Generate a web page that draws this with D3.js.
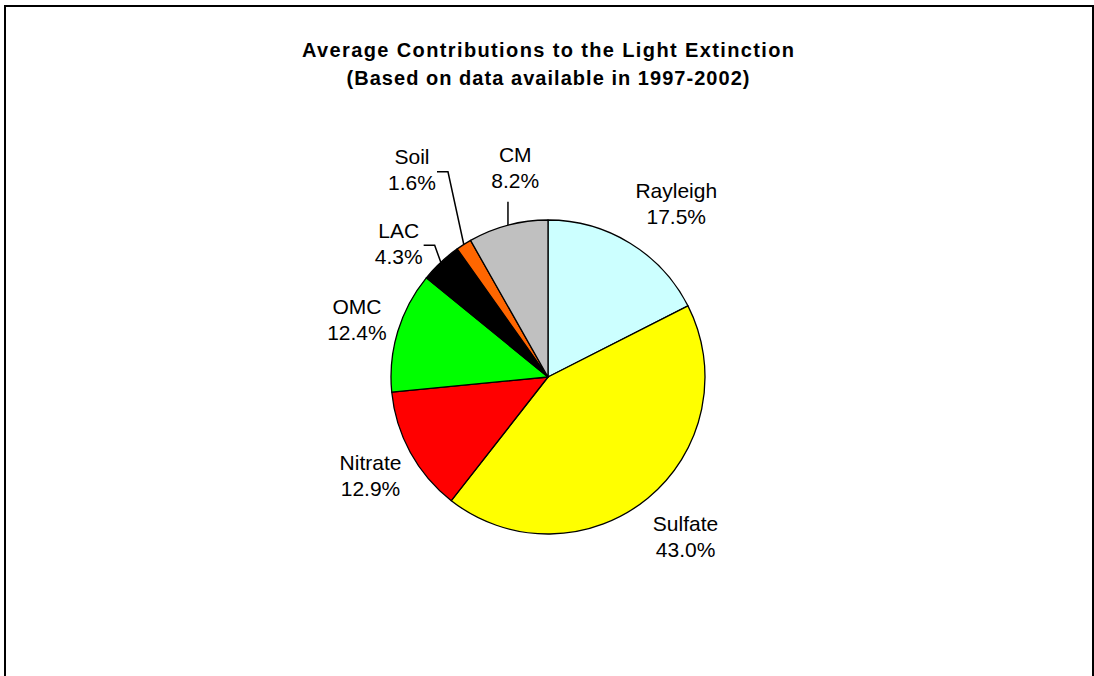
<!DOCTYPE html>
<html>
<head>
<meta charset="utf-8">
<script src="https://cdn.jsdelivr.net/npm/d3@7"></script>
<style>
  html, body { margin: 0; padding: 0; background: #fff; }
  svg { display: block; }
</style>
</head>
<body>
<div id="chart"></div>
<script>
// data
const categories = ["Rayleigh", "Sulfate", "Nitrate", "OMC", "LAC", "Soil", "CM"];
const shares = [17.5, 43.0, 12.9, 12.4, 4.3, 1.6, 8.2];
const colours = ["#CCFFFF", "#FFFF00", "#FF0000", "#00FF00", "#000000", "#FF6600", "#C0C0C0"];
const titleLines = ["Average Contributions to the Light Extinction", "(Based on data available in 1997-2002)"];

const width = 1094, height = 676;
const cx = 548, cy = 377, radius = 157, labelRadius = 207;

// hand nudges for label placement (Excel-style manual positions)
const nudge = {
    Rayleigh: [20, 2], Sulfate: [6, -1], Nitrate: [4, -2], OMC: [7, 2],
    LAC: [-8, 17], Soil: [-25, -33], CM: [20, -10]
};
const leaders = { LAC: "side", Soil: "side", CM: "below" };

const svg = d3.select("#chart").append("svg")
    .attr("width", width)
    .attr("height", height);

// chart area border
svg.append("rect")
    .attr("x", 5).attr("y", 6)
    .attr("width", 1088).attr("height", 720)
    .attr("fill", "none")
    .attr("stroke", "#000")
    .attr("stroke-width", 2);

// title
svg.selectAll(".title")
    .data(titleLines)
    .join("text")
    .attr("class", "title")
    .attr("x", cx)
    .attr("y", (d, i) => 57 + i * 28)
    .attr("text-anchor", "middle")
    .attr("font-family", "'Liberation Sans', Arial, sans-serif")
    .attr("font-weight", "bold")
    .attr("font-size", "20px")
    .attr("textLength", (d, i) => i === 0 ? 492 : 403)
    .attr("lengthAdjust", "spacing")
    .text(d => d);

const data = categories.map((c, i) => ({ name: c, value: shares[i], colour: colours[i] }));

const pie = d3.pie().value(d => d.value).sort(null);
const arcs = pie(data);
const arc = d3.arc().innerRadius(0).outerRadius(radius);

const g = svg.append("g").attr("transform", `translate(${cx},${cy})`);

g.selectAll(".slice")
    .data(arcs)
    .join("path")
    .attr("class", "slice")
    .attr("d", arc)
    .attr("fill", d => d.data.colour)
    .attr("stroke", "#000")
    .attr("stroke-width", 1.3)
    .attr("stroke-linejoin", "round");

const mid = d => (d.startAngle + d.endAngle) / 2;
const polar = (a, r) => [r * Math.sin(a), -r * Math.cos(a)];

const labelPos = d => {
    const p = polar(mid(d), labelRadius);
    const n = nudge[d.data.name] || [0, 0];
    return [p[0] + n[0], p[1] + n[1]];
};

const labels = g.selectAll(".label")
    .data(arcs)
    .join("text")
    .attr("class", "label")
    .attr("text-anchor", "middle")
    .attr("font-family", "'Liberation Sans', Arial, sans-serif")
    .attr("font-size", "21px")
    .attr("fill", "#000");

labels.append("tspan")
    .attr("x", d => labelPos(d)[0])
    .attr("y", d => labelPos(d)[1] - 5)
    .text(d => d.data.name);

labels.append("tspan")
    .attr("x", d => labelPos(d)[0])
    .attr("y", d => labelPos(d)[1] + 21)
    .text(d => d3.format(".1f")(d.data.value) + "%");

// leader lines for the small slices
const leaderData = arcs.filter(d => leaders[d.data.name]);
g.selectAll(".leader")
    .data(leaderData)
    .join("path")
    .attr("class", "leader")
    .attr("fill", "none")
    .attr("stroke", "#000")
    .attr("stroke-width", 1.5)
    .attr("d", d => {
        const [lx, ly] = labelPos(d);
        const end = polar(mid(d), radius);
        if (leaders[d.data.name] === "below") {
            return d3.line()([[end[0], ly + 35], end]);
        }
        const sx = lx + 25, sy = ly + 2.5;
        return d3.line()([[sx, sy], [sx + 11, sy], end]);
    });
</script>
</body>
</html>
